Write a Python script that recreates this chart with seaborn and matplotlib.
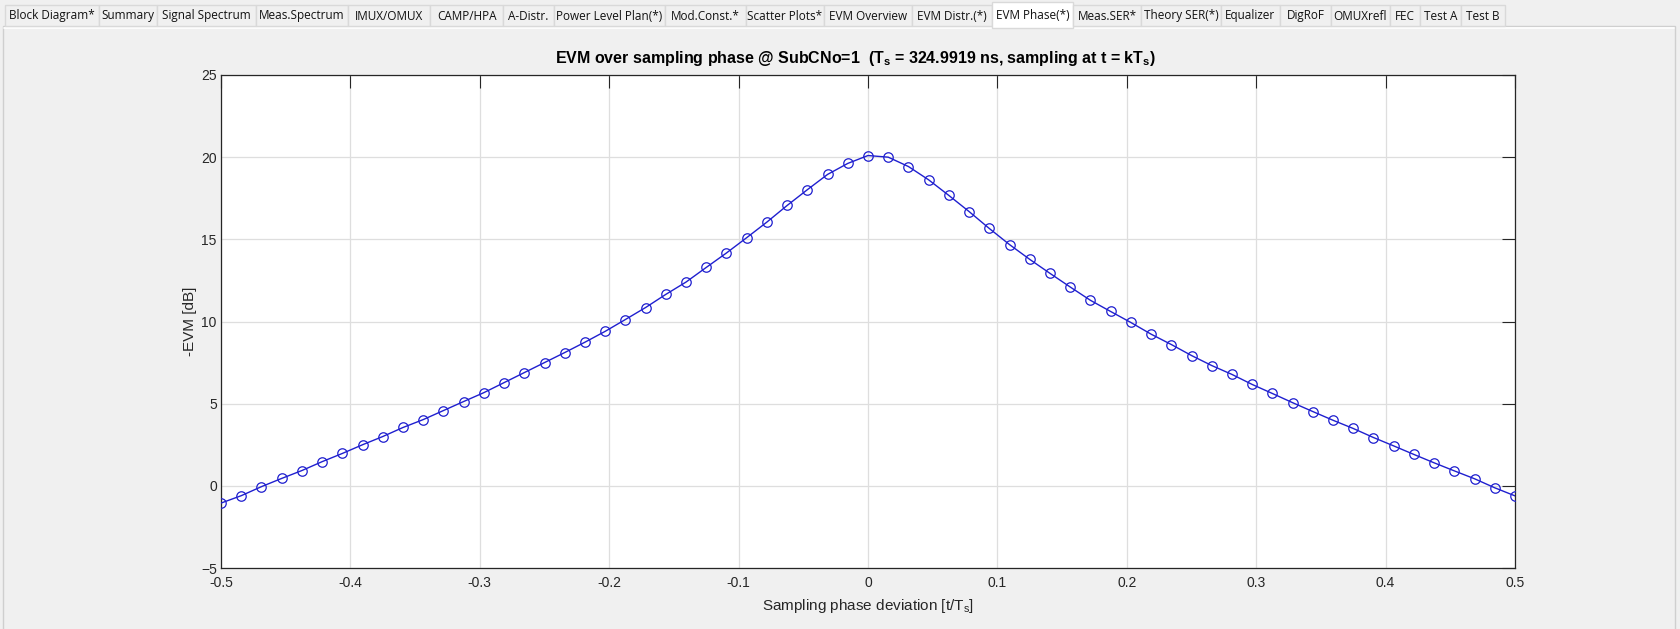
import numpy as np
import pandas as pd
import matplotlib
matplotlib.use("Agg")
import matplotlib.pyplot as plt
import seaborn as sns
from matplotlib.patches import Rectangle
from matplotlib.ticker import MultipleLocator

# sampling phase deviation, step 1/64
phase = np.arange(-32, 33) / 64.0
# -EVM [dB]
evm_db = [
    -1.05, -0.60, -0.05, 0.45, 0.93, 1.47, 1.97, 2.50, 3.00, 3.55,
    4.03, 4.58, 5.13, 5.67, 6.28, 6.89, 7.50, 8.11, 8.74, 9.40,
    10.12, 10.85, 11.65, 12.40, 13.29, 14.17, 15.10, 16.05, 17.06, 18.02,
    18.95, 19.62, 20.10, 20.00, 19.43, 18.62, 17.67, 16.69, 15.66, 14.68,
    13.78, 12.93, 12.10, 11.29, 10.61, 9.94, 9.23, 8.60, 7.93, 7.32,
    6.78, 6.17, 5.62, 5.06, 4.52, 3.99, 3.49, 2.94, 2.43, 1.91,
    1.40, 0.91, 0.43, -0.12, -0.61,
]
xticks = [-0.5, -0.4, -0.3, -0.2, -0.1, 0, 0.1, 0.2, 0.3, 0.4, 0.5]

tab_names = ["Block Diagram*", "Summary", "Signal Spectrum", "Meas.Spectrum",
             "IMUX/OMUX", "CAMP/HPA", "A-Distr.", "Power Level Plan(*)",
             "Mod.Const.*", "Scatter Plots*", "EVM Overview", "EVM Distr.(*)",
             "EVM Phase(*)", "Meas.SER*", "Theory SER(*)", "Equalizer", "DigRoF",
             "OMUXrefl", "FEC", "Test A", "Test B"]
active_tab = "EVM Phase(*)"

# tab edges in pixels (layout only)
tab_edges = [5, 99, 157, 256, 348, 430, 503, 554, 665, 746, 824, 912, 992,
             1073, 1141, 1221, 1280, 1331, 1390, 1420, 1461, 1505]

W, H = 1680, 629
sns.set_theme(style="white")
plt.rcParams["font.family"] = ["Liberation Sans", "DejaVu Sans"]
plt.rcParams["mathtext.default"] = "regular"

fig = plt.figure(figsize=(W / 100, H / 100), dpi=100)
fig.patch.set_facecolor("#f0f0f0")


def fx(x):
    return x / W


def fy(y):
    return 1 - y / H


# panel below the tabs
fig.patches.append(Rectangle((fx(3), fy(640)), fx(1675 - 3), (640 - 26) / H,
                             transform=fig.transFigure, facecolor="#f0f0f0",
                             edgecolor="#cfcfcf", lw=1.0, zorder=-10))
fig.lines.append(plt.Line2D([fx(4), fx(1674)], [fy(28), fy(28)],
                            transform=fig.transFigure, color="white", lw=1.2,
                            zorder=-9))

# tab strip
for i, name in enumerate(tab_names):
    x0, x1 = tab_edges[i], tab_edges[i + 1]
    if name == active_tab:
        top, bot, fc = 2, 28, "white"
    else:
        top, bot, fc = 5, 26, "#f0f0f0"
    fig.patches.append(Rectangle((fx(x0), fy(bot)), fx(x1 - x0), (bot - top) / H,
                                 transform=fig.transFigure, facecolor=fc,
                                 edgecolor="#d9d9d9", lw=1.0, zorder=-8))
    fig.text(fx((x0 + x1) / 2), fy((top + bot) / 2 + 0.5), name,
             ha="center", va="center", fontsize=8.5, color="#111111",
             family=["Open Sans", "DejaVu Sans"])

ax = fig.add_axes([fx(221), fy(568), fx(1515 - 221), (568 - 75) / H])
ax.set_zorder(5)
ax.set_facecolor("white")

df = pd.DataFrame({"phase": phase, "evm": evm_db})
sns.lineplot(data=df, x="phase", y="evm", ax=ax, color="#1f1fcf", lw=1.0,
             marker="o", markersize=6.8, markerfacecolor="none",
             markeredgecolor="#1f1fcf", markeredgewidth=0.9, sort=False, zorder=3)

ax.set_xlim(-0.5, 0.5)
ax.set_ylim(-5, 25)
ax.yaxis.set_major_locator(MultipleLocator(5))
ax.set_xticks(xticks)
ax.set_xticklabels(["%g" % v for v in xticks])

ax.grid(True, color="#dedede", lw=0.9)
ax.set_axisbelow(True)
for s in ax.spines.values():
    s.set_color("#262626")
    s.set_linewidth(0.9)
ax.tick_params(direction="in", length=9.5, width=0.8, color="#262626",
               labelcolor="#262626", labelsize=10, top=True, right=True)
ax.tick_params(axis="y", pad=3)
ax.tick_params(axis="x", pad=6)

ax.set_xlabel("Sampling phase deviation [t/T$_s$]", fontsize=11,
              color="#262626", labelpad=5)
ax.set_ylabel("-EVM [dB]", fontsize=11, color="#262626", labelpad=3)
ax.set_title("EVM over sampling phase @ SubCNo=1  (T$_s$ = 324.9919 ns, sampling at t = kT$_s$)",
             fontsize=11.5, fontweight="bold", color="black", pad=9, x=0.49)

fig.savefig("out.png", dpi=100, facecolor=fig.get_facecolor())
